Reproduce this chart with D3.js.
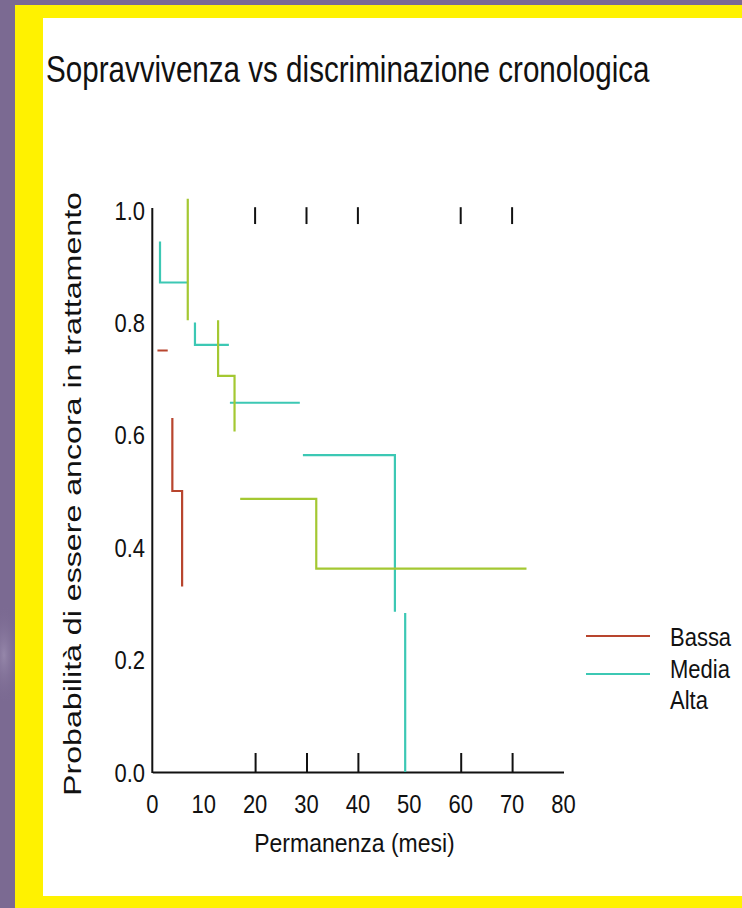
<!DOCTYPE html>
<html>
<head>
<meta charset="utf-8">
<script src="https://cdn.jsdelivr.net/npm/d3@7"></script>
<style>
  html, body { margin: 0; padding: 0; background: #7b6a92; }
  svg { display: block; }
  text { font-family: "Liberation Sans", Arial, Helvetica, sans-serif; fill: #111; }
</style>
</head>
<body>
<script>
// ---- data ----
const title = "Sopravvivenza vs discriminazione cronologica";
const xTitle = "Permanenza (mesi)";
const yTitle = "Probabilità di essere ancora in trattamento";
const xTickLabels = [0, 10, 20, 30, 40, 50, 60, 70, 80];
const xTickMarks = [20, 30, 40, 60, 70];
const yTickLabels = [0.0, 0.2, 0.4, 0.6, 0.8, 1.0];
const topMarks = [20, 30, 40, 60, 70];
const seriesNames = ["Bassa", "Media", "Alta"];

// step curves (null = gap in the drawn line)
const bassaTime = [1.0, 3.0, null, 3.9, 3.9, 5.8, 5.8];
const bassaSurv = [0.75, 0.75, null, 0.63, 0.50, 0.50, 0.33];

const mediaTime = [1.5, 1.5, 6.9, null, 8.3, 8.3, 14.9, null, 15.1, 28.7, null, 29.3, 47.2, 47.2, null, 49.2, 49.2];
const mediaSurv = [0.944, 0.871, 0.871, null, 0.80, 0.76, 0.76, null, 0.657, 0.657, null, 0.564, 0.564, 0.285, null, 0.283, 0.0];

const altaTime = [6.9, 6.9, null, 12.8, 12.8, 16.0, 16.0, null, 17.1, 31.9, 31.9, 72.8];
const altaSurv = [1.02, 0.804, null, 0.804, 0.705, 0.705, 0.606, null, 0.486, 0.486, 0.362, 0.362];

const colors = ["#b8452e", "#3cc8b4", "#a4c832"];

// ---- drawing ----
const W = 742, H = 908;
const svg = d3.select("body").append("svg").attr("width", W).attr("height", H);

const defs = svg.append("defs");
const rg = defs.append("radialGradient").attr("id", "glare").attr("cx", "0.5").attr("cy", "0.5").attr("r", "0.5");
rg.append("stop").attr("offset", "0%").attr("stop-color", "#9c8eb0").attr("stop-opacity", 0.8);
rg.append("stop").attr("offset", "100%").attr("stop-color", "#7b6a92").attr("stop-opacity", 0);

svg.append("rect").attr("width", W).attr("height", H).attr("fill", "#7b6a92");
svg.append("ellipse").attr("cx", 4).attr("cy", 655).attr("rx", 16).attr("ry", 50).attr("fill", "url(#glare)");
svg.append("rect").attr("x", 15).attr("y", 5).attr("width", W - 15).attr("height", H - 5).attr("fill", "#fff200");
svg.append("rect").attr("x", 43).attr("y", 18).attr("width", W - 43).attr("height", 896 - 18).attr("fill", "#ffffff");

const x = d3.scaleLinear().domain([0, 80]).range([152.3, 563.5]);
const y = d3.scaleLinear().domain([0, 1]).range([772, 210]);

function stretchText(px, py, str, size, sy, anchor, weight) {
  const g = svg.append("g").attr("transform", `translate(${px},${py}) scale(1,${sy})`);
  g.append("text").attr("x", 0).attr("y", 0)
    .attr("font-size", size).attr("text-anchor", anchor || "start")
    .attr("font-weight", weight || "normal").text(str);
  return g;
}

// title
stretchText(46, 81.7, title, 29.6, 1.26, "start");

// axes lines
svg.append("line").attr("x1", x(0)).attr("x2", x(0)).attr("y1", 208).attr("y2", y(0) + 1)
  .attr("stroke", "#111").attr("stroke-width", 2);

const xAxis = d3.axisBottom(x).tickValues(xTickMarks).tickSizeInner(-19).tickSizeOuter(0).tickFormat("");
const gx = svg.append("g").attr("transform", `translate(0,${y(0)})`).call(xAxis);
gx.select(".domain").attr("stroke", "#111").attr("stroke-width", 2);
gx.selectAll(".tick line").attr("stroke", "#111").attr("stroke-width", 2);

// top marks
svg.append("g").selectAll("line").data(topMarks).join("line")
  .attr("x1", d => x(d)).attr("x2", d => x(d))
  .attr("y1", y(1.005)).attr("y2", y(0.975))
  .attr("stroke", "#111").attr("stroke-width", 2);

// tick labels
xTickLabels.forEach(v => stretchText(x(v), 813, String(v), 22, 1.2, "middle"));
yTickLabels.forEach(v => stretchText(145, y(v) + 9.5, v.toFixed(1), 22, 1.2, "end"));

// axis titles
stretchText(354.5, 852, xTitle, 23, 1.15, "middle");
svg.append("g").attr("transform", "translate(81,494) rotate(-90) scale(1.34,1)")
  .append("text").attr("font-size", 24).attr("text-anchor", "middle").text(yTitle);

// curves
const line = d3.line()
  .defined(d => d[0] !== null && d[1] !== null)
  .x(d => x(d[0])).y(d => y(d[1]));

const series = [
  d3.zip(bassaTime, bassaSurv),
  d3.zip(mediaTime, mediaSurv),
  d3.zip(altaTime, altaSurv)
];
svg.append("g").selectAll("path").data(series).join("path")
  .attr("d", line).attr("fill", "none")
  .attr("stroke", (d, i) => colors[i]).attr("stroke-width", 2.2);

// legend
const legY = [636, 674, 705];
const legTextY = [646, 678, 709];
seriesNames.forEach((name, i) => {
  if (i < 2) {
    svg.append("line").attr("x1", 586).attr("x2", 650).attr("y1", legY[i]).attr("y2", legY[i])
      .attr("stroke", colors[i]).attr("stroke-width", 2.2);
  }
  stretchText(670, legTextY[i], name, 22, 1.15, "start");
});
</script>
</body>
</html>
